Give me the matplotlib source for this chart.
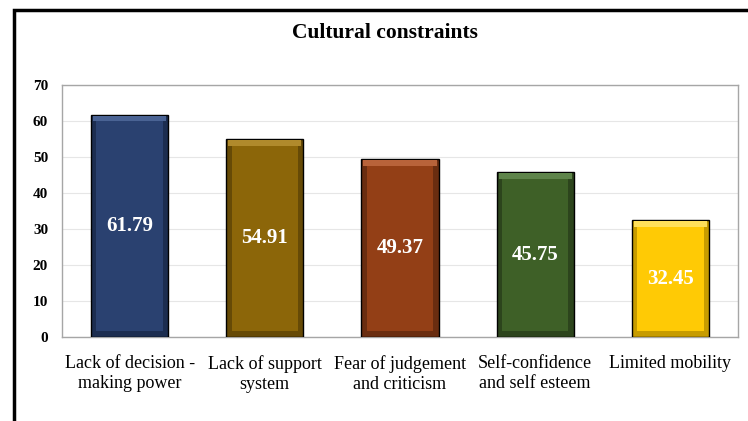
import matplotlib.pyplot as plt
import numpy as np
from matplotlib.patches import Rectangle

categories = ["Lack of decision -\nmaking power", "Lack of support\nsystem",
              "Fear of judgement\nand criticism", "Self-confidence\nand self esteem",
              "Limited mobility"]
values = [61.79, 54.91, 49.37, 45.75, 32.45]
yticks = [0, 10, 20, 30, 40, 50, 60, 70]

main_colors = ["#2A4170", "#8C6609", "#933F16", "#3E6027", "#FFCA05"]
edge_colors = ["#1C2D50", "#664A06", "#6A2D10", "#2C441C", "#C79C00"]
top_colors = ["#4A6394", "#B08A2C", "#B8633A", "#5E844A", "#FFE05A"]

plt.rcParams["font.family"] = "Liberation Serif"

fig = plt.figure(figsize=(7.48, 4.21), dpi=100)
ax = fig.add_axes([62 / 748, 1 - 337 / 421, 676 / 748, 252 / 421])

x = np.arange(len(values))
w = 0.57
ix = 0.08
iy = 1.6
vals = np.array(values)
# outer bar = dark bevel + black outline, then light top bevel, then face
ax.bar(x, vals, width=w, color=edge_colors, edgecolor="black", linewidth=1.0, zorder=3)
ax.bar(x, np.full_like(vals, iy), bottom=vals - iy - 0.3, width=w - 0.03,
       color=top_colors, linewidth=0, zorder=3.5)
ax.bar(x, vals - 2 * iy - 0.3, bottom=iy, width=w - ix, color=main_colors,
       linewidth=0, zorder=4)

for xi, v in zip(x, values):
    ax.text(xi, v / 2, f"{v:.2f}", ha="center", va="center", color="white",
            fontsize=15, fontweight="bold", zorder=5)

ax.set_ylim(0, 70)
ax.set_xlim(-0.5, len(values) - 0.5)
ax.set_yticks(yticks)
ax.set_yticklabels([str(t) for t in yticks], fontsize=11, fontweight="bold")
ax.set_xticks(x)
ax.set_xticklabels(categories, fontsize=13, linespacing=1.25)
ax.tick_params(axis="both", length=0)
ax.tick_params(axis="y", pad=10)
ax.tick_params(axis="x", pad=13)
ax.yaxis.grid(True, color="#E6E6E6", linewidth=0.8, zorder=0)
for s in ax.spines.values():
    s.set_color("#A6A6A6")
    s.set_linewidth(1.0)

fig.text(385 / 748, 1 - 33 / 421, "Cultural constraints", ha="center", va="center",
         fontsize=15.5, fontweight="bold")

fig.add_artist(Rectangle((14 / 748, -0.1), 1.2, 1 - 10 / 421 + 0.1,
                         transform=fig.transFigure, fill=False,
                         edgecolor="black", linewidth=2.5))

fig.savefig("out.png", dpi=100)
